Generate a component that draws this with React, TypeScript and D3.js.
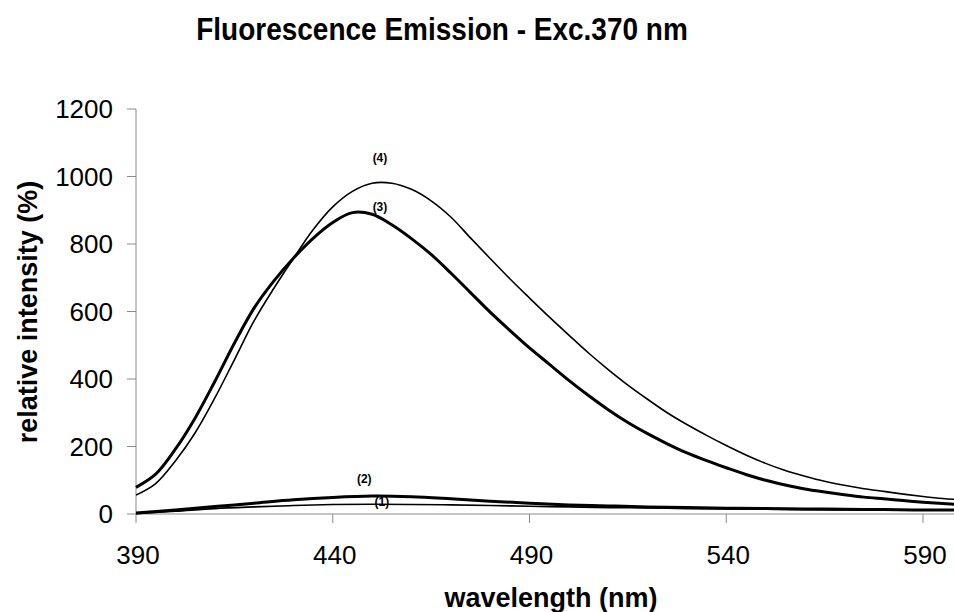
import React from "react";
import * as d3 from "d3";

const wl5 = [390,395,400,405,410,415,420,425,430,435,440,445,450,455,460,465,470,475,480,485,490,495,500,505,510,515,520,525,530,535,540,545,550,555,560,565,570,575,580,585,590,595,600];
const series3 = [79,118,192,284,392,506,610,690,758,817,864,893,888,857,816,769,714,656,598,544,492,444,396,351,309,271,238,208,181,158,137,117,100,86,74,65,57,50,45,40,35,31,28];
const series4 = [56,90,157,240,343,457,572,668,757,842,910,956,980,980,962,928,880,818,757,697,640,584,530,477,428,382,340,300,265,233,203,175,150,129,112,97,85,75,67,59,52,46,42];

const wl10 = [390,400,410,420,430,440,450,460,470,480,490,500,510,520,530,540,550,560,570,580,590,600];
const series2 = [3,12,22,32,42,49,53,51,45,38,32,27,24,21,19,17,16,15,14,13,12,12];
const series1 = [1,8,16,21,25,28,29,28,27,25,23,21,19,18,16,15,14,13,12,12,12,12];

const xTicks = [390,440,490,540,590];
const yTicks = [0,200,400,600,800,1000,1200];

const curveLabels = [
  { text: "(4)", x: 452, y: 1055 },
  { text: "(3)", x: 452, y: 910 },
  { text: "(2)", x: 448, y: 103 },
  { text: "(1)", x: 452.5, y: 35 },
];

const FONT = "'Liberation Sans', Arial, Helvetica, sans-serif";

export default function App() {
  const W = 954, H = 612;
  const x = d3.scaleLinear().domain([390, 600]).range([136, 136 + 210 * 3.935]);
  const y = d3.scaleLinear().domain([0, 1200]).range([514, 109]);

  const line = d3.line<[number, number]>()
    .x(d => x(d[0]))
    .y(d => y(d[1]))
    .curve(d3.curveCatmullRom.alpha(0.5));

  const mk = (xs: number[], ys: number[]) => line(xs.map((v, i) => [v, ys[i]] as [number, number])) || "";

  const lines = [
    { d: mk(wl5, series4), w: 1.6 },
    { d: mk(wl5, series3), w: 3 },
    { d: mk(wl10, series2), w: 3 },
    { d: mk(wl10, series1), w: 1.6 },
  ];

  const axisColor = "#8a8a8a";
  const y0 = y(0);
  const xLeft = x(390);

  return (
    <div style={{ position: "absolute", left: 0, top: 0 }}>
      <svg width={W} height={H} viewBox={`0 0 ${W} ${H}`} style={{ display: "block", background: "#fff" }}>
        <rect x={0} y={0} width={W} height={H} fill="#fff" />
        <text
          transform="translate(442,40) scale(1,1.12)"
          textAnchor="middle"
          fontFamily={FONT}
          fontWeight="bold"
          fontSize={28}
          fill="#000"
        >
          Fluorescence Emission - Exc.370 nm
        </text>

        {/* y axis */}
        <line x1={xLeft} x2={xLeft} y1={y(1200)} y2={y0} stroke={axisColor} strokeWidth={1} />
        {yTicks.map(t => (
          <g key={"y" + t}>
            <line x1={xLeft - 9} x2={xLeft} y1={y(t)} y2={y(t)} stroke={axisColor} strokeWidth={1} />
            <text x={113} y={y(t)} dy="0.35em" textAnchor="end" fontFamily={FONT} fontSize={26} fill="#000">
              {t}
            </text>
          </g>
        ))}

        {/* x axis */}
        <line x1={xLeft} x2={x(600)} y1={y0} y2={y0} stroke={axisColor} strokeWidth={1} />
        {xTicks.map(t => (
          <g key={"x" + t}>
            <line x1={x(t)} x2={x(t)} y1={y0} y2={y0 + 9} stroke={axisColor} strokeWidth={1} />
            <text x={x(t) + 2} y={564} textAnchor="middle" fontFamily={FONT} fontSize={26} fill="#000">
              {t}
            </text>
          </g>
        ))}

        {/* curves */}
        {lines.map((l, i) => (
          <path key={i} d={l.d} fill="none" stroke="#000" strokeWidth={l.w} strokeLinejoin="round" />
        ))}

        {curveLabels.map(l => (
          <text
            key={l.text}
            x={x(l.x)}
            y={y(l.y)}
            dy="0.35em"
            textAnchor="middle"
            fontFamily={FONT}
            fontWeight="bold"
            fontSize={12}
            fill="#000"
          >
            {l.text}
          </text>
        ))}

        <text x={551} y={607} textAnchor="middle" fontFamily={FONT} fontWeight="bold" fontSize={27} fill="#000">
          wavelength (nm)
        </text>
        <text
          transform="translate(37,312) rotate(-90)"
          textAnchor="middle"
          fontFamily={FONT}
          fontWeight="bold"
          fontSize={27}
          fill="#000"
        >
          relative intensity (%)
        </text>
      </svg>
    </div>
  );
}
